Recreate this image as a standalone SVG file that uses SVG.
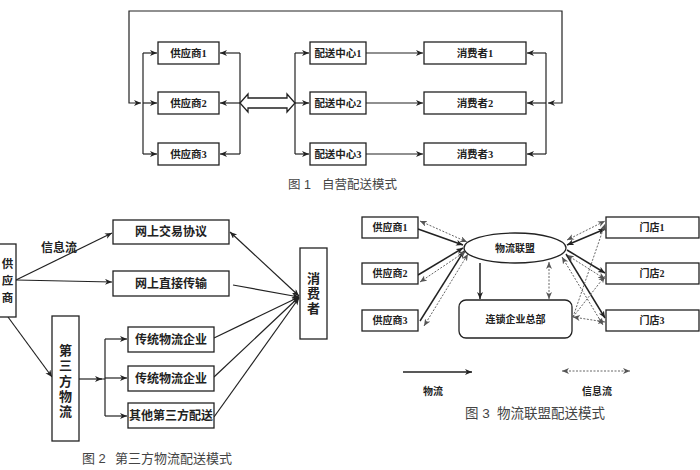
<svg xmlns="http://www.w3.org/2000/svg" width="700" height="470" viewBox="0 0 700 470">
<defs>
<style>
.b{fill:#fff;stroke:#222;stroke-width:1.3}
.t{font-family:"Liberation Serif","Noto Sans CJK SC",serif;font-weight:bold;fill:#222;text-anchor:middle;dominant-baseline:central}
.cap{font-family:"Liberation Sans","Noto Sans CJK SC",sans-serif;fill:#444;dominant-baseline:central}
.l{fill:none;stroke:#222;stroke-width:1.2}
.s{fill:none;stroke:#222;stroke-width:1.5}
.d{fill:none;stroke:#666;stroke-width:1;stroke-dasharray:2 1.5}
</style>
<marker id="a" markerUnits="userSpaceOnUse" markerWidth="8" markerHeight="8" refX="7" refY="3" orient="auto-start-reverse"><path d="M0,0 L7,3 L0,6 L2,3 Z" fill="#222"/></marker>
<marker id="g" markerUnits="userSpaceOnUse" markerWidth="8" markerHeight="8" refX="7" refY="3" orient="auto-start-reverse"><path d="M0,0 L7,3 L0,6 L2,3 Z" fill="#555"/></marker>
</defs>

<g id="connectors">
<!-- Fig 1 -->
<path class="l" d="M548,103 H562 V11 H129 V103 H141" marker-start="url(#a)" marker-end="url(#a)"/>
<path class="l" d="M143,53 V154"/>
<line class="l" x1="143" y1="53" x2="157" y2="53" marker-end="url(#a)"/>
<line class="l" x1="143" y1="103" x2="157" y2="103" marker-end="url(#a)"/>
<line class="l" x1="143" y1="154" x2="157" y2="154" marker-end="url(#a)"/>
<path class="l" d="M240,53 V154"/>
<line class="l" x1="240" y1="53" x2="220" y2="53" marker-end="url(#a)"/>
<line class="l" x1="240" y1="103" x2="220" y2="103" marker-end="url(#a)"/>
<line class="l" x1="240" y1="154" x2="220" y2="154" marker-end="url(#a)"/>
<polygon class="b" points="240,103 248,94 248,98 287,98 287,94 295,103 287,112 287,108 248,108 248,112"/>
<path class="l" d="M295,53 V154"/>
<line class="l" x1="295" y1="53" x2="309" y2="53" marker-end="url(#a)"/>
<line class="l" x1="295" y1="103" x2="309" y2="103" marker-end="url(#a)"/>
<line class="l" x1="295" y1="154" x2="309" y2="154" marker-end="url(#a)"/>
<line class="l" x1="366" y1="53" x2="423" y2="53" marker-end="url(#a)"/>
<line class="l" x1="366" y1="103" x2="423" y2="103" marker-end="url(#a)"/>
<line class="l" x1="366" y1="154" x2="423" y2="154" marker-end="url(#a)"/>
<path class="l" d="M546,53 V154"/>
<line class="l" x1="546" y1="53" x2="527" y2="53" marker-end="url(#a)"/>
<line class="l" x1="546" y1="103" x2="527" y2="103" marker-end="url(#a)"/>
<line class="l" x1="546" y1="154" x2="527" y2="154" marker-end="url(#a)"/>

<!-- Fig 2 -->
<line class="l" x1="16" y1="280" x2="112" y2="233" marker-end="url(#a)"/>
<line class="l" x1="16" y1="280" x2="112" y2="282" marker-end="url(#a)"/>
<line class="l" x1="8" y1="317" x2="52" y2="377" marker-end="url(#a)"/>
<line class="l" x1="79" y1="379" x2="102" y2="379" marker-end="url(#a)"/>
<path class="l" d="M100,379 H105 M105,339 V416"/>
<line class="l" x1="105" y1="339" x2="127" y2="339" marker-end="url(#a)"/>
<line class="l" x1="105" y1="378" x2="127" y2="378" marker-end="url(#a)"/>
<line class="l" x1="105" y1="416" x2="127" y2="416" marker-end="url(#a)"/>
<line class="l" x1="230" y1="232" x2="299" y2="296" marker-start="url(#a)" marker-end="url(#a)"/>
<line class="l" x1="233" y1="285" x2="299" y2="297" marker-end="url(#a)"/>
<line class="l" x1="214" y1="338" x2="299" y2="297" marker-end="url(#a)"/>
<line class="l" x1="214" y1="377" x2="299" y2="297" marker-end="url(#a)"/>
<line class="l" x1="214" y1="417" x2="299" y2="298" marker-end="url(#a)"/>

<!-- Fig 3 -->
<line class="s" x1="418" y1="229" x2="463" y2="245" marker-end="url(#a)"/>
<line class="s" x1="418" y1="275" x2="463" y2="248" marker-end="url(#a)"/>
<line class="s" x1="420" y1="321" x2="464" y2="251" marker-end="url(#a)"/>
<line class="d" x1="420" y1="221" x2="467" y2="242" marker-start="url(#g)" marker-end="url(#g)"/>
<line class="d" x1="420" y1="282" x2="466" y2="251" marker-start="url(#g)" marker-end="url(#g)"/>
<line class="d" x1="424" y1="326" x2="468" y2="254" marker-start="url(#g)" marker-end="url(#g)"/>
<line class="s" x1="480" y1="263" x2="480" y2="299" marker-end="url(#a)"/>
<line class="d" x1="549" y1="262" x2="549" y2="299" marker-start="url(#g)" marker-end="url(#g)"/>
<line class="s" x1="567" y1="245" x2="605" y2="229" marker-start="url(#a)" marker-end="url(#a)"/>
<line class="d" x1="567" y1="240" x2="605" y2="221" marker-start="url(#g)" marker-end="url(#g)"/>
<line class="s" x1="567" y1="250" x2="605" y2="273" marker-end="url(#a)"/>
<line class="d" x1="567" y1="255" x2="605" y2="279" marker-start="url(#g)" marker-end="url(#g)"/>
<line class="s" x1="566" y1="254" x2="605" y2="318" marker-end="url(#a)"/>
<line class="d" x1="562" y1="257" x2="603" y2="325" marker-start="url(#g)" marker-end="url(#g)"/>
<line class="d" x1="573" y1="317" x2="605" y2="224" marker-end="url(#g)"/>
<line class="d" x1="573" y1="317" x2="605" y2="276" marker-end="url(#g)"/>
<line class="d" x1="573" y1="317" x2="605" y2="322" marker-start="url(#g)" marker-end="url(#g)"/>
<line class="s" x1="403" y1="372" x2="472" y2="372" marker-end="url(#a)"/>
<line class="d" x1="562" y1="371" x2="630" y2="371" marker-start="url(#g)" marker-end="url(#g)"/>
</g>

<!-- Fig 1 nodes -->
<g id="f1-s1"><rect class="b" x="158" y="42" width="61" height="22"/><text class="t" x="188.5" y="53" font-size="10.5">供应商1</text></g>
<g id="f1-s2"><rect class="b" x="158" y="92" width="61" height="22"/><text class="t" x="188.5" y="103" font-size="10.5">供应商2</text></g>
<g id="f1-s3"><rect class="b" x="158" y="143" width="61" height="22"/><text class="t" x="188.5" y="154" font-size="10.5">供应商3</text></g>
<g id="f1-d1"><rect class="b" x="310" y="42" width="56" height="22"/><text class="t" x="338" y="53" font-size="10.5">配送中心1</text></g>
<g id="f1-d2"><rect class="b" x="310" y="92" width="56" height="22"/><text class="t" x="338" y="103" font-size="10.5">配送中心2</text></g>
<g id="f1-d3"><rect class="b" x="310" y="143" width="56" height="22"/><text class="t" x="338" y="154" font-size="10.5">配送中心3</text></g>
<g id="f1-c1"><rect class="b" x="424" y="42" width="102" height="22"/><text class="t" x="475" y="53" font-size="10.5">消费者1</text></g>
<g id="f1-c2"><rect class="b" x="424" y="92" width="102" height="22"/><text class="t" x="475" y="103" font-size="10.5">消费者2</text></g>
<g id="f1-c3"><rect class="b" x="424" y="143" width="102" height="22"/><text class="t" x="475" y="154" font-size="10.5">消费者3</text></g>
<g id="cap1"><text class="cap" x="288" y="185" font-size="12.5">图 1</text><text class="cap" x="322" y="185" font-size="12.5">自营配送模式</text></g>

<!-- Fig 2 nodes -->
<g id="f2-sup"><rect class="b" x="-10" y="244" width="26" height="73"/>
<text class="t" x="7.5" y="264" font-size="11.5">供</text><text class="t" x="7.5" y="281" font-size="11.5">应</text><text class="t" x="7.5" y="298" font-size="11.5">商</text></g>
<g id="f2-info"><text class="t" x="59" y="248" font-size="12">信息流</text></g>
<g id="f2-n1"><rect class="b" x="113" y="220" width="116" height="24"/><text class="t" x="171" y="232" font-size="12">网上交易协议</text></g>
<g id="f2-n2"><rect class="b" x="113" y="271" width="116" height="25"/><text class="t" x="171" y="283.5" font-size="12">网上直接传输</text></g>
<g id="f2-con"><rect class="b" x="300" y="248" width="27" height="91"/>
<text class="t" x="313.5" y="278" font-size="13">消</text><text class="t" x="313.5" y="293" font-size="13">费</text><text class="t" x="313.5" y="308" font-size="13">者</text></g>
<g id="f2-3pl"><rect class="b" x="52" y="316" width="27" height="125"/>
<text class="t" x="65.5" y="350" font-size="13">第</text><text class="t" x="65.5" y="365" font-size="13">三</text><text class="t" x="65.5" y="381" font-size="13">方</text><text class="t" x="65.5" y="396" font-size="13">物</text><text class="t" x="65.5" y="411" font-size="13">流</text></g>
<g id="f2-e1"><rect class="b" x="128" y="327" width="86" height="25"/><text class="t" x="171" y="339.5" font-size="12">传统物流企业</text></g>
<g id="f2-e2"><rect class="b" x="128" y="366" width="86" height="25"/><text class="t" x="171" y="378.5" font-size="12">传统物流企业</text></g>
<g id="f2-e3"><rect class="b" x="128" y="403" width="86" height="25"/><text class="t" x="171" y="415.5" font-size="12">其他第三方配送</text></g>
<g id="cap2"><text class="cap" x="82" y="458" font-size="13">图 2</text><text class="cap" x="115" y="458" font-size="13">第三方物流配送模式</text></g>

<!-- Fig 3 nodes -->
<g id="f3-s1"><rect class="b" x="362" y="217" width="56" height="21"/><text class="t" x="390" y="227.5" font-size="10">供应商1</text></g>
<g id="f3-s2"><rect class="b" x="362" y="263" width="56" height="21"/><text class="t" x="390" y="273.5" font-size="10">供应商2</text></g>
<g id="f3-s3"><rect class="b" x="362" y="310" width="56" height="21"/><text class="t" x="390" y="320.5" font-size="10">供应商3</text></g>
<g id="f3-al"><ellipse class="b" cx="515" cy="248" rx="51" ry="15"/><text class="t" x="515" y="248" font-size="10">物流联盟</text></g>
<g id="f3-hq"><rect class="b" x="459" y="300" width="113" height="38" rx="7"/><text class="t" x="515.5" y="319" font-size="10">连锁企业总部</text></g>
<g id="f3-m1"><rect class="b" x="606" y="217" width="93" height="21"/><text class="t" x="652" y="227.5" font-size="10">门店1</text></g>
<g id="f3-m2"><rect class="b" x="606" y="263" width="93" height="21"/><text class="t" x="652" y="273.5" font-size="10">门店2</text></g>
<g id="f3-m3"><rect class="b" x="606" y="310" width="93" height="21"/><text class="t" x="652" y="320.5" font-size="10">门店3</text></g>
<g id="f3-leg"><text class="t" x="433" y="391" font-size="10">物流</text><text class="t" x="597" y="391" font-size="10">信息流</text></g>
<g id="cap3"><text class="cap" x="465" y="413" font-size="13.5">图 3</text><text class="cap" x="497" y="413" font-size="13.5">物流联盟配送模式</text></g>
</svg>
